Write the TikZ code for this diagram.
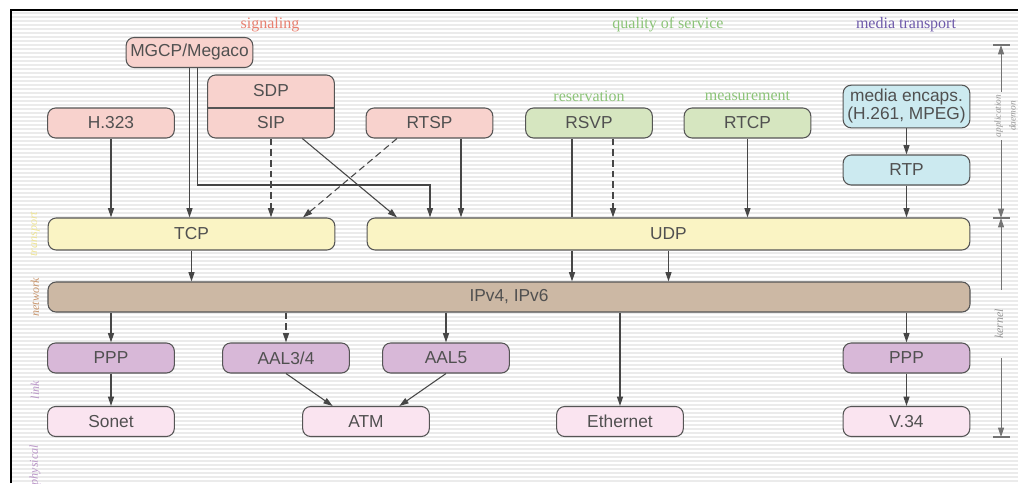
\documentclass[tikz,border=0pt]{standalone}
\usepackage{fontspec}
\setmainfont{Liberation Serif}
\setsansfont{Liberation Sans}
\usetikzlibrary{arrows.meta,positioning}
\definecolor{boxline}{RGB}{85,85,85}
\definecolor{arrowc}{RGB}{70,70,70}
\definecolor{boxtext}{RGB}{80,80,80}
\definecolor{sigfill}{RGB}{248,210,205}
\definecolor{sigtext}{RGB}{232,128,112}
\definecolor{qosfill}{RGB}{214,230,192}
\definecolor{qostext}{RGB}{140,196,120}
\definecolor{medfill}{RGB}{204,234,240}
\definecolor{medtext}{RGB}{110,90,170}
\definecolor{transfill}{RGB}{250,244,196}
\definecolor{transtext}{RGB}{238,228,150}
\definecolor{netfill}{RGB}{204,184,164}
\definecolor{nettext}{RGB}{200,150,110}
\definecolor{linkfill}{RGB}{216,184,216}
\definecolor{linktext}{RGB}{186,150,200}
\definecolor{phyfill}{RGB}{250,228,240}
\definecolor{sidegray}{RGB}{150,150,150}
\newcommand\boxfont{\sffamily\fontsize{13}{13.5}\selectfont}
\tikzset{
	box/.style={draw=boxline,line width=0.8pt,rounded corners=6pt,align=center,inner sep=0pt,
		minimum width=95pt,minimum height=22.5pt,text=boxtext,font=\boxfont},
	sig/.style={box,fill=sigfill},
	qos/.style={box,fill=qosfill},
	media/.style={box,fill=medfill},
	trans/.style={box,fill=transfill,minimum height=24pt},
	net/.style={box,fill=netfill},
	linkbox/.style={box,fill=linkfill},
	phybox/.style={box,fill=phyfill},
	head/.style={font=\fontsize{12}{14}\selectfont,inner sep=1pt},
	side/.style={rotate=90,inner sep=2pt,font=\itshape\fontsize{9}{10}\selectfont},
	stripe/.style={black!8,line width=0.9pt},
	frame/.style={black,line width=1.6pt},
	every path/.style={},
	conn/.style={draw=arrowc,line width=0.8pt,-{Triangle[length=7pt,width=4.5pt]}},
	dashline/.style={dash pattern=on 5pt off 3pt},
	dim/.style={draw=black!55,line width=0.6pt,-{Triangle[length=7pt,width=4.5pt]}},
	tick/.style={draw=black!55,line width=0.8pt}
}

\begin{document}
\begin{tikzpicture}[x=0.75pt,y=-0.75pt]
	\useasboundingbox (0,0) rectangle (1018,483);
	% scanned background
	\foreach \y in {13,17,...,483}
		\draw[stripe] (12,\y) -- (1018,\y);
	\draw[frame] (11,483) -- (11,10) -- (1018,10);

	% column headings
	\node[head,text=sigtext] (signaling) at (270,25) {signaling};
	\node[head,text=qostext] (quality) at (668,25) {quality of service};
	\node[head,text=medtext] (mediatr) at (906,25) {media transport};
	\node[head,text=qostext] (resv) at (589,96) {reservation};
	\node[head,text=qostext] (meas) at (747.5,96) {measurement};

	% application daemons
	\node[sig] (mgcp) at (189.5,52.5) {MGCP/Megaco};
	\node[sig,minimum height=47.25pt] (sip) at (271,106.5) {};
	\draw[boxline,line width=0.8pt] ([yshift=-1.1pt]sip.west) -- ([yshift=-1.1pt]sip.east);
	\node[text=boxtext,font=\boxfont] (sdp) at (271,91) {SDP};
	\node[text=boxtext,font=\boxfont] (siptext) at (271,123) {SIP};
	\node[sig] (h323) at (111,123) {H.323};
	\node[sig] (rtsp) at (429.5,123) {RTSP};
	\node[qos] (rsvp) at (589,123) {RSVP};
	\node[qos] (rtcp) at (747.5,123) {RTCP};
	\node[media,minimum height=32pt] (encaps) at (906.5,106.5) {media encaps.\\(H.261, MPEG)};
	\node[media] (rtp) at (906.5,170) {RTP};

	% kernel
	\node[trans,minimum width=215pt] (tcp) at (191.5,234) {TCP};
	\node[trans,minimum width=452pt] (udp) at (668.5,234) {UDP};
	\node[net,minimum width=691.5pt] (ip) at (509,297) {IPv4, IPv6};
	\node[linkbox] (ppp) at (111,358) {PPP};
	\node[linkbox] (aal34) at (286,358) {AAL3/4};
	\node[linkbox] (aal5) at (446,358) {AAL5};
	\node[linkbox] (ppp2) at (906.5,358) {PPP};
	\node[phybox] (sonet) at (111,421.5) {Sonet};
	\node[phybox] (atm) at (366,421.5) {ATM};
	\node[phybox] (ether) at (620,421.5) {Ethernet};
	\node[phybox] (v34) at (906.5,421.5) {V.34};

	% connectors
	\coordinate (bend) at (430,185);
	\coordinate (rtspx) at (461,0);
	\coordinate (rsvpx) at (572,0);
	\coordinate (resvx) at (613,0);
	\draw[conn] (h323) -- (h323 |- tcp.north);
	\draw[conn] (mgcp) -- (mgcp |- tcp.north);
	\draw[conn] ([xshift=6pt]mgcp.south) |- (bend) -- (bend |- udp.north);
	\draw[conn,dashline] (sip) -- (sip |- tcp.north);
	\draw[conn] ([xshift=23.5pt]sip.south) -- ([xshift=-203.6pt]udp.north);
	\draw[conn,dashline] ([xshift=-24.4pt]rtsp.south) -- ([xshift=83.6pt]tcp.north);
	\draw[conn] (rtsp.south -| rtspx) -- (udp.north -| rtspx);
	\draw[arrowc,line width=0.8pt] (rsvp.south -| rsvpx) -- (udp.north -| rsvpx);
	\draw[conn] (udp.south -| rsvpx) -- (ip.north -| rsvpx);
	\draw[conn,dashline] (rsvp.south -| resvx) -- (udp.north -| resvx);
	\draw[conn] (rtcp) -- (rtcp |- udp.north);
	\draw[conn] (encaps) -- (rtp);
	\draw[conn] (rtp) -- (rtp |- udp.north);
	\draw[conn] (tcp) -- (tcp |- ip.north);
	\draw[conn] (udp) -- (udp |- ip.north);
	\draw[conn] (ppp |- ip.south) -- (ppp);
	\draw[conn,dashline] (aal34 |- ip.south) -- (aal34);
	\draw[conn] (aal5 |- ip.south) -- (aal5);
	\draw[conn] (ether |- ip.south) -- (ether);
	\draw[conn] (ppp2 |- ip.south) -- (ppp2);
	\draw[conn] (ppp) -- (sonet);
	\draw[conn] (aal34.south) -- ([xshift=-25pt]atm.north);
	\draw[conn] (aal5.south) -- ([xshift=25pt]atm.north);
	\draw[conn] (ppp2) -- (v34);

	% layer names
	\node[side,text=transtext] (transl) at (35,234) {transport};
	\node[side,text=nettext] (netl) at (35,297) {network};
	\node[side,text=linktext] (linkl) at (35,390) {link};
	\node[side,text=linktext] (phyl) at (35,465) {physical};

	% domains
	\coordinate (atop) at (1001,45);
	\coordinate (amid) at (1001,218);
	\coordinate (kbot) at (1001,437);
	\node[side,text=sidegray,align=center,font=\itshape\fontsize{7}{11}\selectfont] (appd) at (1005,116) {application\\daemon};
	\node[side,text=sidegray,inner xsep=14pt] (kern) at (999,324) {kernel};
	\draw[dim] (appd.east -| atop) -- (atop);
	\draw[dim] (appd.west -| atop) -- (amid);
	\draw[dim] (kern.east -| amid) -- (amid);
	\draw[dim] (kern.west -| kbot) -- (kbot);
	\draw[tick] ([xshift=-6pt]atop) -- ([xshift=7pt]atop);
	\draw[tick] ([xshift=-6pt]amid) -- ([xshift=7pt]amid);
	\draw[tick] ([xshift=-6pt]kbot) -- ([xshift=7pt]kbot);
\end{tikzpicture}
\end{document}
